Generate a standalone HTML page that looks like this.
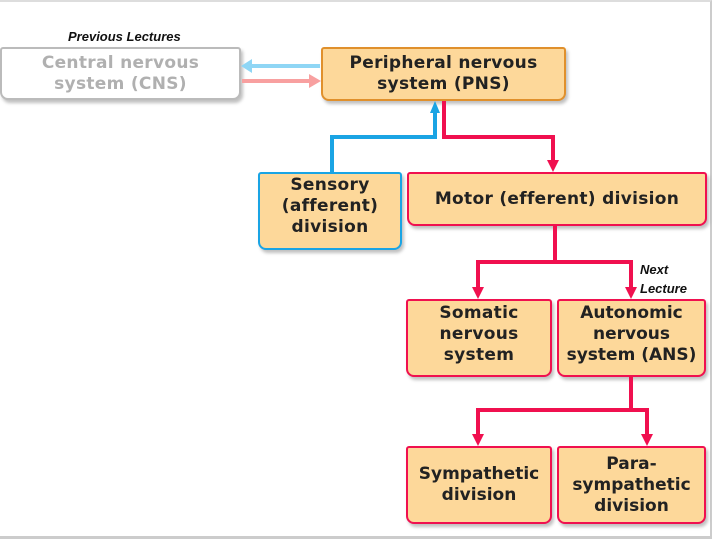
<!DOCTYPE html>
<html><head><meta charset="utf-8"><style>
html,body{margin:0;padding:0}
body{width:720px;height:544px;position:relative;background:#fff;overflow:hidden;font-family:"DejaVu Sans","Liberation Sans",Arial,sans-serif}
.frame{position:absolute;left:0;top:0;width:712px;height:539px;border-top:2px solid #ddd;border-right:2px solid #ccc;border-bottom:3px solid #ccc;box-sizing:border-box}
.b{position:absolute;box-sizing:border-box;background:#fdd89a;border:2px solid #f0104f;border-radius:3px 3px 8px 8px;display:flex;align-items:center;justify-content:center;text-align:center;font-weight:bold;font-size:17px;line-height:21px;letter-spacing:0.3px;color:#222;box-shadow:2px 3px 3px rgba(0,0,0,.25)}
.lbl{position:absolute;font-family:"Liberation Sans",Arial,sans-serif;font-style:italic;font-weight:bold;font-size:13px;color:#111;line-height:19px}
svg{position:absolute;left:0;top:0}
</style></head><body>
<div class="frame"></div>
<div class="lbl" style="left:68px;top:27px">Previous Lectures</div>
<div class="lbl" style="left:640px;top:260px">Next<br>Lecture</div>
<div class="b" style="left:0;top:47px;width:241px;height:53px;background:#fff;border-color:#bbb;color:#b0b0b0">Central nervous<br>system (CNS)</div>
<div class="b" style="left:321px;top:47px;width:245px;height:54px;border-color:#e0902c">Peripheral nervous<br>system (PNS)</div>
<div class="b" style="left:258px;top:172px;width:144px;height:78px;border-color:#1aa4e4;align-items:flex-start;padding-top:1px">Sensory<br>(afferent)<br>division</div>
<div class="b" style="left:407px;top:172px;width:300px;height:54px">Motor (efferent) division</div>
<div class="b" style="left:406px;top:299px;width:146px;height:78px;align-items:flex-start;padding-top:2px">Somatic<br>nervous<br>system</div>
<div class="b" style="left:557px;top:299px;width:149px;height:78px;align-items:flex-start;padding-top:2px;letter-spacing:0">Autonomic<br>nervous<br>system (ANS)</div>
<div class="b" style="left:406px;top:446px;width:146px;height:78px;letter-spacing:0">Sympathetic<br>division</div>
<div class="b" style="left:557px;top:446px;width:149px;height:78px;letter-spacing:0">Para-<br>sympathetic<br>division</div>
<svg width="720" height="544">
<g fill="none" stroke-width="4">
<path d="M320 66H250" stroke="#8fd6f5"/>
<path d="M242 81H310" stroke="#f8a0a0"/>
<path d="M332 172V137H435V112" stroke="#1aa4e4"/>
<path d="M444 101V137H553V162" stroke="#f0104f"/>
<path d="M555 226V262H478V290M555 262H631V290" stroke="#f0104f"/>
<path d="M631 377V410H478V437M631 410H647V437" stroke="#f0104f"/>
</g>
<polygon points="241,66 252,59 252,73" fill="#8fd6f5"/>
<polygon points="321,81 309,74 309,88" fill="#f8a0a0"/>
<polygon points="435,101 430,113 440,113" fill="#1aa4e4"/>
<g fill="#f0104f">
<polygon points="553,172 547,160 559,160"/>
<polygon points="478,299 472,287 484,287"/>
<polygon points="631,299 625,287 637,287"/>
<polygon points="478,446 472,434 484,434"/>
<polygon points="647,446 641,434 653,434"/>
</g>
</svg>
</body></html>
